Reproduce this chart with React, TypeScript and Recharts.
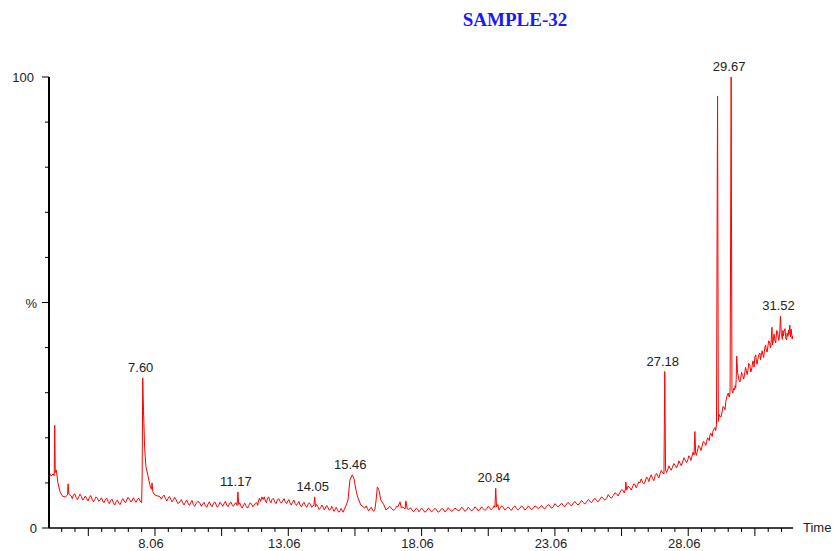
import React from 'react';
import { LineChart, Line, XAxis, YAxis, ReferenceDot } from 'recharts';

// retention time (min)
const times = [
  4.10, 4.17, 4.24, 4.28, 4.30, 4.32, 4.36, 4.42, 4.50, 4.60,
  4.70, 4.78, 4.80, 4.83, 4.92, 5.00, 5.10, 5.20, 5.30, 5.40,
  5.50, 5.60, 5.70, 5.80, 5.90, 6.00, 6.10, 6.20, 6.30, 6.40,
  6.50, 6.60, 6.70, 6.80, 6.90, 7.00, 7.10, 7.20, 7.30, 7.40,
  7.50, 7.56, 7.58, 7.60, 7.63, 7.67, 7.72, 7.80, 7.87, 7.93,
  7.95, 7.98, 8.03, 8.10, 8.17, 8.25, 8.35, 8.45, 8.55, 8.65,
  8.75, 8.85, 9.00, 9.10, 9.20, 9.30, 9.40, 9.50, 9.60, 9.75,
  9.85, 9.95, 10.05, 10.15, 10.25, 10.35, 10.45, 10.55, 10.65, 10.75,
  10.85, 10.95, 11.05, 11.14, 11.17, 11.20, 11.28, 11.38, 11.48, 11.58,
  11.68, 11.78, 11.88, 11.95, 12.02, 12.07, 12.12, 12.20, 12.28, 12.37,
  12.45, 12.55, 12.65, 12.75, 12.85, 12.95, 13.05, 13.12, 13.22, 13.32,
  13.42, 13.50, 13.60, 13.70, 13.80, 13.90, 13.97, 14.02, 14.05, 14.08,
  14.17, 14.27, 14.37, 14.45, 14.55, 14.65, 14.73, 14.81, 14.90, 15.00,
  15.08, 15.15, 15.22, 15.30, 15.37, 15.46, 15.52, 15.60, 15.67, 15.78,
  15.93, 16.03, 16.12, 16.22, 16.31, 16.35, 16.40, 16.46, 16.53, 16.65,
  16.80, 16.95, 17.08, 17.17, 17.25, 17.30, 17.36, 17.44, 17.47, 17.52,
  17.58, 17.70, 17.81, 17.92, 18.00, 18.12, 18.25, 18.37, 18.50, 18.62,
  18.75, 18.87, 19.00, 19.12, 19.25, 19.37, 19.50, 19.62, 19.75, 19.87,
  20.00, 20.12, 20.25, 20.37, 20.50, 20.62, 20.72, 20.78, 20.81, 20.84,
  20.87, 20.92, 21.00, 21.12, 21.25, 21.37, 21.50, 21.62, 21.75, 21.87,
  22.00, 22.12, 22.25, 22.37, 22.50, 22.62, 22.75, 22.87, 23.00, 23.12,
  23.25, 23.37, 23.50, 23.62, 23.75, 23.87, 24.00, 24.12, 24.25, 24.37,
  24.50, 24.62, 24.75, 24.87, 25.00, 25.12, 25.25, 25.37, 25.50, 25.62,
  25.70, 25.72, 25.75, 25.87, 25.97, 26.07, 26.15, 26.25, 26.30, 26.35,
  26.45, 26.55, 26.62, 26.72, 26.82, 26.92, 27.00, 27.10, 27.15, 27.18,
  27.21, 27.30, 27.37, 27.47, 27.57, 27.67, 27.75, 27.85, 27.95, 28.05,
  28.12, 28.20, 28.28, 28.31, 28.34, 28.40, 28.50, 28.58, 28.68, 28.75,
  28.82, 28.87, 28.93, 28.99, 29.06, 29.12, 29.16, 29.19, 29.25, 29.33,
  29.40, 29.47, 29.56, 29.63, 29.67, 29.70, 29.77, 29.82, 29.86, 29.88,
  29.91, 29.96, 30.03, 30.10, 30.18, 30.24, 30.30, 30.37, 30.45, 30.51,
  30.56, 30.62, 30.67, 30.75, 30.80, 30.86, 30.93, 30.99, 31.05, 31.12,
  31.16, 31.20, 31.25, 31.31, 31.38, 31.44, 31.49, 31.52, 31.55, 31.57,
  31.61, 31.65, 31.72, 31.77, 31.80, 31.84, 31.87, 31.90, 31.94, 31.98,
];

// relative intensity (%)
const signal = [
  12.2, 11.5, 12.0, 11.6, 22.8, 12.3, 12.8, 10.0, 8.0, 7.0,
  6.9, 7.3, 9.8, 7.5, 7.1, 7.3, 6.8, 6.9, 7.0, 6.6,
  6.5, 6.8, 6.4, 6.3, 6.6, 6.2, 6.0, 6.3, 5.9, 6.1,
  5.6, 5.8, 5.5, 5.9, 6.0, 6.2, 6.4, 6.0, 6.1, 6.3,
  6.0, 5.6, 12.0, 33.3, 26.0, 18.0, 13.6, 11.5, 9.5, 8.6,
  10.0, 8.0, 7.5, 7.2, 7.1, 6.9, 7.0, 6.6, 6.5, 6.4,
  6.2, 6.3, 5.8, 5.6, 5.7, 5.5, 5.6, 5.2, 5.4, 5.5,
  5.3, 5.0, 5.3, 5.1, 5.4, 5.2, 5.0, 5.3, 5.4, 5.1,
  5.3, 5.2, 5.4, 5.0, 8.0, 5.2, 4.9, 5.1, 4.8, 5.0,
  5.3, 5.1, 5.6, 6.2, 5.9, 6.9, 6.3, 6.0, 6.5, 6.0,
  6.3, 5.8, 6.2, 5.9, 6.0, 5.8, 6.1, 5.6, 5.7, 5.4,
  5.5, 5.1, 5.3, 5.0, 5.2, 5.1, 4.9, 5.0, 6.9, 4.7,
  4.7, 4.5, 4.6, 4.4, 4.5, 4.2, 4.3, 4.0, 4.1, 3.8,
  3.9, 4.0, 4.9, 6.2, 10.6, 11.8, 11.0, 8.4, 6.7, 5.1,
  4.4, 4.3, 4.2, 4.0, 4.2, 6.0, 9.1, 8.4, 6.2, 5.1,
  4.4, 4.2, 4.3, 4.7, 5.8, 4.4, 4.7, 4.2, 6.0, 4.3,
  4.1, 4.0, 3.9, 4.1, 3.9, 4.0, 3.8, 4.1, 3.9, 4.0,
  3.8, 4.2, 3.9, 4.1, 3.9, 4.2, 4.0, 4.3, 4.0, 4.2,
  4.1, 4.4, 4.1, 4.3, 4.2, 4.4, 4.3, 4.9, 4.6, 8.8,
  4.7, 5.2, 4.4, 4.6, 4.3, 4.2, 4.6, 4.3, 4.4, 4.6,
  4.3, 4.5, 4.4, 4.7, 4.6, 4.5, 4.8, 4.9, 4.7, 5.0,
  5.1, 5.0, 5.3, 5.2, 5.5, 5.4, 5.6, 5.7, 5.8, 6.0,
  6.2, 6.1, 6.4, 6.6, 6.6, 6.9, 7.2, 7.6, 7.9, 8.3,
  8.5, 10.2, 8.4, 8.9, 9.1, 9.6, 9.4, 10.0, 10.9, 10.1,
  10.4, 10.9, 11.1, 11.0, 11.6, 11.5, 12.0, 12.2, 12.0, 34.7,
  12.9, 13.1, 13.3, 13.5, 13.9, 14.0, 14.4, 14.6, 15.0, 15.2,
  15.7, 15.9, 16.2, 21.4, 16.5, 17.0, 17.8, 18.2, 18.8, 19.2,
  19.8, 20.4, 20.9, 21.5, 22.3, 22.9, 95.8, 23.6, 24.7, 25.7,
  26.8, 28.0, 29.9, 30.2, 100, 30.5, 31.0, 31.6, 33.0, 38.1,
  34.5, 32.8, 33.3, 33.8, 34.4, 34.9, 35.0, 36.1, 35.5, 36.9,
  37.9, 37.0, 37.3, 38.8, 38.2, 38.5, 39.9, 39.5, 40.4, 41.0,
  40.3, 44.5, 41.5, 41.7, 43.8, 42.2, 43.0, 47.0, 43.1, 42.6,
  43.8, 43.5, 42.1, 43.2, 42.5, 42.9, 45.0, 42.4, 43.0, 42.6,
];

// baseline ripple read between the points above
const rippleTimes = [
  4.96, 5.05, 5.15, 5.25, 5.35, 5.45, 5.55, 5.65, 5.75, 5.85,
  5.95, 6.05, 6.15, 6.25, 6.35, 6.45, 6.55, 6.65, 6.75, 6.85,
  6.95, 7.05, 7.15, 7.25, 7.35, 7.45,
  8.30, 8.40, 8.50, 8.60, 8.70, 8.80, 8.92, 9.05, 9.15, 9.25,
  9.35, 9.45, 9.55, 9.67, 9.80, 9.90, 10.00, 10.10, 10.20, 10.30,
  10.40, 10.50, 10.60, 10.70, 10.80, 10.90, 11.00, 11.10, 11.24, 11.33,
  11.43, 11.53, 11.63, 11.73, 11.83, 11.91, 11.98, 12.16, 12.24, 12.32,
  12.41, 12.50, 12.60, 12.70, 12.80, 12.90, 13.00, 13.09, 13.17, 13.27,
  13.37, 13.46, 13.55, 13.65, 13.75, 13.85, 13.94, 14.12, 14.22, 14.32,
  14.41, 14.50, 14.60, 14.69, 14.77, 14.86, 14.95, 15.04, 15.12,
  15.98, 16.07, 16.17, 16.26, 16.72, 16.87, 17.02, 17.12,
  17.64, 17.75, 17.86, 17.96, 18.06, 18.18, 18.31, 18.43, 18.56, 18.68,
  18.81, 18.93, 19.06, 19.18, 19.31, 19.43, 19.56, 19.68, 19.81, 19.93,
  20.06, 20.18, 20.31, 20.43, 20.56, 20.67, 20.96, 21.06, 21.18, 21.31,
  21.43, 21.56, 21.68, 21.81, 21.93, 22.06, 22.18, 22.31, 22.43, 22.56,
  22.68, 22.81, 22.93, 23.06, 23.18, 23.31, 23.43, 23.56, 23.68, 23.81,
  23.93, 24.06, 24.18, 24.31, 24.43, 24.56, 24.68, 24.81, 24.93, 25.06,
  25.18, 25.31, 25.43, 25.56, 25.66, 25.81, 25.92, 26.02, 26.11, 26.20,
  26.40, 26.50, 26.58, 26.67, 26.77, 26.87, 26.96, 27.05, 27.25, 27.34,
  27.42, 27.52, 27.62, 27.71, 27.80, 27.90, 28.00, 28.08, 28.16, 28.24,
  28.37, 28.45, 28.54, 28.63, 28.72, 28.79, 28.85, 28.90, 28.96, 29.03,
  29.09, 29.22, 29.29, 29.36, 29.44, 29.51, 29.60,
  29.73, 29.80, 29.84, 29.94, 30.00, 30.06, 30.14, 30.21, 30.27, 30.33,
  30.41, 30.48, 30.53, 30.59, 30.64, 30.71, 30.77, 30.83, 30.89, 30.96,
  31.02, 31.08, 31.14, 31.22, 31.28, 31.34, 31.41, 31.46, 31.59, 31.63,
  31.69, 31.75, 31.82, 31.92, 31.96,
];

const rippleSignal = [
  6.5, 7.6, 6.3, 7.5, 6.2, 7.1, 6.0, 7.2, 5.8, 6.9,
  5.9, 6.7, 5.6, 6.6, 5.4, 6.4, 5.1, 6.2, 5.2, 6.5,
  5.6, 6.8, 5.8, 6.7, 5.7, 6.6,
  6.4, 7.3, 6.0, 7.0, 5.8, 6.8, 5.4, 6.3, 5.1, 6.2,
  5.0, 6.1, 4.8, 5.9, 4.8, 5.7, 4.6, 5.8, 4.7, 5.8,
  4.6, 5.7, 4.8, 5.9, 4.7, 5.8, 4.8, 5.6, 5.6, 4.4,
  5.5, 4.4, 5.6, 4.7, 5.5, 5.0, 6.6, 6.9, 5.6, 6.9,
  5.6, 6.6, 5.4, 6.5, 5.5, 6.5, 5.4, 6.3, 5.1, 6.2,
  5.0, 5.9, 4.7, 5.7, 4.6, 5.6, 4.6, 5.2, 4.1, 5.1,
  4.0, 5.0, 3.9, 4.8, 3.7, 4.6, 3.5, 4.3, 3.5,
  4.9, 3.8, 4.6, 3.7, 4.0, 4.8, 3.9, 4.8,
  4.5, 3.6, 4.4, 3.6, 4.4, 3.5, 4.4, 3.6, 4.4, 3.5,
  4.3, 3.6, 4.5, 3.7, 4.4, 3.8, 4.6, 3.7, 4.6, 3.8,
  4.7, 3.8, 4.7, 3.9, 4.8, 4.0, 4.0, 4.9, 4.0, 4.7,
  3.9, 4.9, 4.0, 4.9, 4.0, 4.9, 4.1, 4.9, 4.3, 5.0,
  4.2, 5.2, 4.4, 5.4, 4.7, 5.5, 4.7, 5.7, 4.9, 5.9,
  5.1, 6.1, 5.3, 6.3, 5.6, 6.6, 5.8, 6.9, 6.2, 7.4,
  6.6, 7.8, 7.1, 8.5, 7.8, 9.3, 8.4, 9.8, 8.9, 10.2,
  9.8, 11.3, 10.3, 11.8, 10.5, 12.1, 11.1, 12.8, 12.3, 13.8,
  12.8, 14.3, 13.3, 14.9, 13.8, 15.6, 14.5, 16.0, 15.0, 16.8,
  16.1, 18.3, 17.2, 19.2, 18.3, 20.0, 19.4, 21.0, 20.3, 22.0,
  21.6, 25.2, 24.6, 26.9, 26.2, 29.2, 29.0,
  29.9, 30.6, 31.0, 33.8, 32.4, 34.5, 33.0, 35.6, 34.0, 36.5,
  34.6, 37.0, 35.7, 38.4, 36.3, 38.5, 37.3, 39.3, 37.8, 40.6,
  39.0, 41.5, 39.9, 40.6, 43.0, 41.0, 43.6, 41.6, 41.8, 42.6,
  44.2, 41.7, 43.9, 44.1, 41.9,
];

const peakTimes = [7.60, 11.17, 14.05, 15.46, 20.84, 27.18, 29.67, 31.52];
const peakLabels = ['7.60', '11.17', '14.05', '15.46', '20.84', '27.18', '29.67', '31.52'];

const xTicks = [
  4.56, 5.06, 5.56, 6.06, 6.56, 7.06, 7.56, 8.06, 8.56, 9.06,
  9.56, 10.06, 10.56, 11.06, 11.56, 12.06, 12.56, 13.06, 13.56, 14.06,
  14.56, 15.06, 15.56, 16.06, 16.56, 17.06, 17.56, 18.06, 18.56, 19.06,
  19.56, 20.06, 20.56, 21.06, 21.56, 22.06, 22.56, 23.06, 23.56, 24.06,
  24.56, 25.06, 25.56, 26.06, 26.56, 27.06, 27.56, 28.06, 28.56, 29.06,
  29.56, 30.06, 30.56, 31.06, 31.56,
];
const xLabelTicks = [8.06, 13.06, 18.06, 23.06, 28.06];
const xMidTicks = [5.56, 10.56, 15.56, 20.56, 25.56, 30.56];

const yTicks = [0, 10, 20, 30, 40, 50, 60, 70, 80, 90, 100];
const yLabels: Record<number, string> = { 0: '0', 50: '%', 100: '100' };

const data = [
  ...times.map((t, i) => ({ t, v: signal[i] })),
  ...rippleTimes.map((t, i) => ({ t, v: rippleSignal[i] })),
].sort((a, b) => a.t - b.t);

const FONT = '"Liberation Sans", Arial, sans-serif';

const XTick = (props: any) => {
  const { x, y, payload } = props;
  const val = payload.value;
  const isLabel = xLabelTicks.includes(val);
  const len = isLabel || xMidTicks.includes(val) ? 8 : 4;
  return (
    <g>
      <line x1={x} x2={x} y1={y} y2={y + len} stroke="#000" strokeWidth={1} />
      {isLabel && (
        <text x={x - 4} y={y + 20} textAnchor="middle" fontSize={13} fontFamily={FONT} fill="#222">
          {val.toFixed(2)}
        </text>
      )}
    </g>
  );
};

const YTick = (props: any) => {
  const { x, y, payload } = props;
  const val = payload.value;
  const label = yLabels[val];
  const len = label ? 7 : 4;
  return (
    <g>
      <line x1={x - len} x2={x} y1={y} y2={y} stroke="#000" strokeWidth={1} />
      {label && (
        <text x={val === 100 ? x - 15 : x - 12} y={y + 5} textAnchor="end" fontSize={13} fontFamily={FONT} fill="#222">
          {label}
        </text>
      )}
    </g>
  );
};

const PeakLabel = (text: string) => (props: any) => (
  <text x={props.cx - 2} y={props.cy - 6} textAnchor="middle" fontSize={13} fontFamily={FONT} fill="#222">
    {text}
  </text>
);

export default function App() {
  return (
    <div style={{ position: 'absolute', left: 0, top: 0, width: 833, height: 551, background: '#fff' }}>
      <div
        style={{
          position: 'absolute',
          left: 413,
          width: 204,
          top: 10,
          textAlign: 'center',
          fontFamily: '"Liberation Serif", "Times New Roman", serif',
          fontWeight: 'bold',
          fontSize: 19,
          lineHeight: '19px',
          color: '#1a1af5',
        }}
      >
        SAMPLE-32
      </div>
      <LineChart width={833} height={551} data={data} margin={{ top: 77, right: 40, bottom: 0, left: 9 }}>
        <XAxis
          dataKey="t"
          type="number"
          domain={[4.085, 31.99]}
          allowDataOverflow
          ticks={xTicks}
          interval={0}
          height={23}
          tickSize={0}
          tickMargin={0}
          tickLine={false}
          axisLine={{ stroke: '#000', strokeWidth: 1.5 }}
          tick={(p: any) => <XTick {...p} />}
        />
        <YAxis
          type="number"
          domain={[0, 100]}
          ticks={yTicks}
          interval={0}
          width={40}
          tickSize={0}
          tickMargin={0}
          tickLine={false}
          axisLine={{ stroke: '#000', strokeWidth: 2 }}
          tick={(p: any) => <YTick {...p} />}
        />
        <Line
          type="linear"
          dataKey="v"
          stroke="#ff0000"
          strokeWidth={1}
          dot={false}
          activeDot={false}
          isAnimationActive={false}
        />
        {peakTimes.map((t, i) => (
          <ReferenceDot
            key={t}
            x={t}
            y={signal[times.indexOf(t)]}
            r={0}
            shape={PeakLabel(peakLabels[i])}
          />
        ))}
      </LineChart>
      <div
        style={{
          position: 'absolute',
          left: 803,
          top: 521,
          fontFamily: FONT,
          fontSize: 13,
          lineHeight: '13px',
          color: '#222',
        }}
      >
        Time
      </div>
    </div>
  );
}
